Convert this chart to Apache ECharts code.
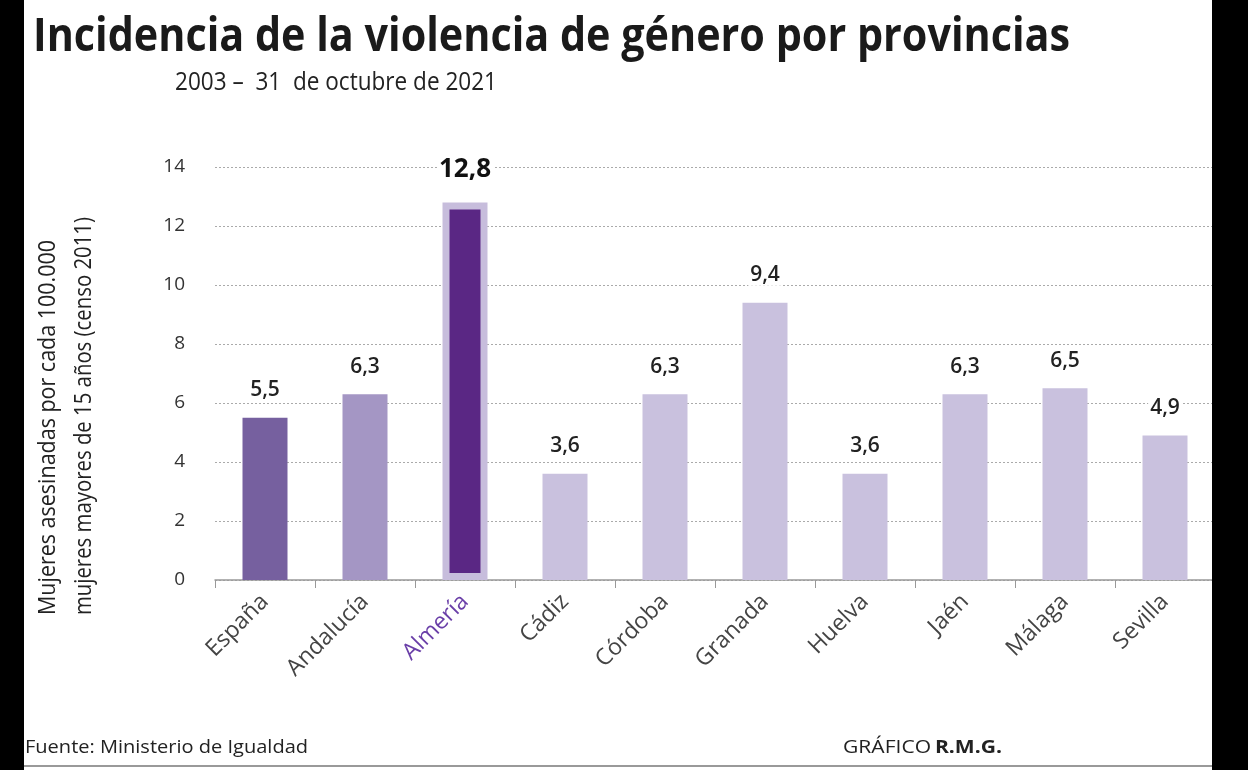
<!DOCTYPE html>
<html><head><meta charset="utf-8">
<script src="https://cdn.jsdelivr.net/npm/echarts@6/dist/echarts.min.js"></script>
<style>html,body{margin:0;padding:0;background:#fff}#c{width:1248px;height:770px}</style>
</head><body><div id="c"></div>
<script>
const categories = ['España','Andalucía','Almería','Cádiz','Córdoba','Granada','Huelva','Jaén','Málaga','Sevilla'];
const values = [5.5, 6.3, 12.8, 3.6, 6.3, 9.4, 3.6, 6.3, 6.5, 4.9];
const yTicks = [0, 2, 4, 6, 8, 10, 12, 14];
const highlightIndex = 2;

const barColors = ['#76609f','#a496c4','#c7bddc','#c9c1de','#c9c1de','#c9c1de','#c9c1de','#c9c1de','#c9c1de','#c9c1de'];
const FONT = '"Open Sans", "Noto Sans", sans-serif';

const mctx = document.createElement('canvas').getContext('2d');
function fitScale(text, font, target) {
  mctx.font = font;
  return target / mctx.measureText(text).width;
}
function fitText(opts) {
  const s = fitScale(opts.text, opts.font, opts.width);
  return {type: 'text', x: opts.x, y: opts.y, scaleX: s, rotation: opts.rotation || 0,
    style: {text: opts.text, font: opts.font, fill: opts.fill || '#222', align: 'left', verticalAlign: 'top'}, z: 50};
}

const chart = echarts.init(document.getElementById('c'), null, {renderer:'canvas'});
const fmt = v => String(v).replace('.', ',');

const titleFont = 'bold 46px "Open Sans", sans-serif';
const subFont = '25px "Open Sans", sans-serif';
const yFont = '23px "Open Sans", sans-serif';
const footFont = '18px "Open Sans", sans-serif';

chart.setOption({
  animation: false,
  backgroundColor: '#fff',
  grid: {left: 215, right: 33, top: 167, bottom: 190},
  xAxis: {
    type: 'category', data: categories,
    axisLine: {lineStyle: {color: '#999', width: 1.5}},
    axisTick: {show: true, length: 8, lineStyle: {color: '#999'}},
    axisLabel: {
      rotate: 45, margin: 18, fontFamily: FONT, fontSize: 23, color: '#444',
      formatter: (v, i) => i === highlightIndex ? '{h|' + v + '}' : v,
      rich: {h: {color: '#6a3fa8', fontFamily: FONT, fontSize: 23}}
    }
  },
  yAxis: {
    type: 'value', min: yTicks[0], max: yTicks[yTicks.length-1], interval: 2,
    axisLine: {show: false}, axisTick: {show: false},
    axisLabel: {margin: 30, fontFamily: FONT, fontSize: 19, color: '#333'},
    splitLine: {lineStyle: {color: '#aaa', type: [2, 2], width: 1}}
  },
  series: [{
    type: 'bar', barWidth: 45,
    data: values.map((v, i) => ({value: v, itemStyle: {color: barColors[i]},
      label: i === highlightIndex ? {fontSize: 26, fontWeight: 'bold', color: '#111', distance: 20} : {}})),
    label: {
      show: true, position: 'top', distance: 17, fontFamily: FONT, fontSize: 21, fontWeight: 600,
      color: '#222', backgroundColor: '#fff', padding: [0, 2],
      formatter: p => fmt(p.value)
    },
    z: 2
  }, {
    type: 'custom',
    data: [[highlightIndex, values[highlightIndex]]],
    renderItem: (params, api) => {
      const top = api.coord([api.value(0), api.value(1)]);
      const bot = api.coord([api.value(0), 0]);
      const inset = 7;
      const w = 45 - 2 * inset;
      return {type: 'rect', shape: {x: top[0] - w / 2, y: top[1] + inset, width: w, height: bot[1] - top[1] - 2 * inset},
        style: {fill: '#5a2784'}};
    },
    z: 3
  }],
  graphic: [
    {type: 'rect', left: 0, top: 0, shape: {width: 24, height: 770}, style: {fill: '#000'}, z: 100},
    {type: 'rect', left: 1212, top: 0, shape: {width: 36, height: 770}, style: {fill: '#000'}, z: 100},
    fitText({text: 'Incidencia de la violencia de género por provincias', font: titleFont, width: 1037, x: 33, y: 15, fill: '#1a1a1a'}),
    fitText({text: '2003 –  31  de octubre de 2021', font: subFont, width: 322, x: 175, y: 70, fill: '#222'}),
    fitText({text: 'Mujeres asesinadas por cada 100.000', font: yFont, width: 375, x: 37, y: 615, rotation: Math.PI / 2}),
    fitText({text: 'mujeres mayores de 15 años (censo 2011)', font: yFont, width: 398, x: 73, y: 615, rotation: Math.PI / 2}),
    fitText({text: 'Fuente: Ministerio de Igualdad', font: footFont, width: 283, x: 25, y: 739}),
    {type: 'text', x: 843, y: 739, scaleX: 1.17, style: {text: '{a|GRÁFICO} {b|R.M.G.}', verticalAlign: 'top',
      rich: {a: {font: footFont, fill: '#222'}, b: {font: 'bold 18px "Open Sans", sans-serif', fill: '#222'}}}},
    {type: 'rect', left: 24, top: 765, shape: {width: 1188, height: 2}, style: {fill: '#999'}}
  ]
});
</script></body></html>
